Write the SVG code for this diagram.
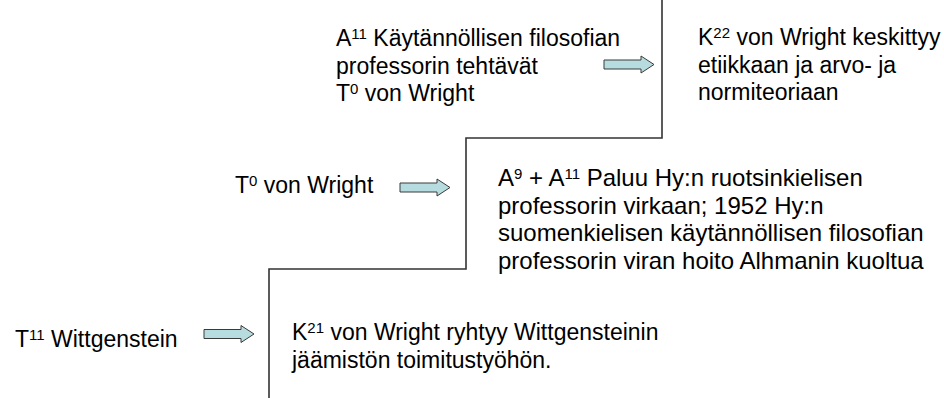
<svg xmlns="http://www.w3.org/2000/svg" width="944" height="398" viewBox="0 0 944 398">
<style>
text{font-family:"Liberation Sans",Arial,sans-serif;font-size:23px;fill:#000}
.big{font-size:24px}
.sup{font-size:15px}
.step{fill:none;stroke:#333;stroke-width:1.6}
.arr{fill:#B7DCE0;stroke:#3a3a3a;stroke-width:1}
</style>
<defs>
<path id="blockArrow" d="M0,-4.5 H37 V-8.5 L50,0 L37,8.5 V4.5 H0 Z"/>
</defs>
<rect width="944" height="398" fill="#fff"/>
<g id="connectors">
<path class="step" d="M662,0 V138 H466 V269 H269 V398"/>
<use href="#blockArrow" class="arr" transform="translate(604,64.5)"/>
<use href="#blockArrow" class="arr" transform="translate(400,187.5)"/>
<use href="#blockArrow" class="arr" transform="translate(204,334)"/>
</g>
<g id="node-a11">
<text x="336" y="46">A<tspan class="sup" dy="-7">11</tspan><tspan dy="7"> Käytännöllisen filosofian</tspan></text>
<text x="336" y="73.5">professorin tehtävät</text>
<text x="336" y="101">T<tspan class="sup" dy="-7">0</tspan><tspan dy="7"> von Wright</tspan></text>
</g>
<g id="node-k22">
<text x="698" y="45">K<tspan class="sup" dy="-7">22</tspan><tspan dy="7"> von Wright keskittyy</tspan></text>
<text x="698" y="72.5">etiikkaan ja arvo- ja</text>
<text x="698" y="100">normiteoriaan</text>
</g>
<g id="node-t0">
<text x="235" y="193">T<tspan class="sup" dy="-7">0</tspan><tspan dy="7"> von Wright</tspan></text>
</g>
<g id="node-a9">
<text class="big" x="498" y="186">A<tspan class="sup" dy="-7">9</tspan><tspan dy="7"> + A</tspan><tspan class="sup" dy="-7">11</tspan><tspan dy="7"> Paluu Hy:n ruotsinkielisen</tspan></text>
<text class="big" x="498" y="213.5">professorin virkaan; 1952 Hy:n</text>
<text class="big" x="498" y="241">suomenkielisen käytännöllisen filosofian</text>
<text class="big" x="498" y="268.5">professorin viran hoito Alhmanin kuoltua</text>
</g>
<g id="node-t11">
<text x="15" y="347">T<tspan class="sup" dy="-7">11</tspan><tspan dy="7"> Wittgenstein</tspan></text>
</g>
<g id="node-k21">
<text x="292" y="340">K<tspan class="sup" dy="-7">21</tspan><tspan dy="7"> von Wright ryhtyy Wittgensteinin</tspan></text>
<text x="292" y="367.5">jäämistön toimitustyöhön.</text>
</g>
</svg>
